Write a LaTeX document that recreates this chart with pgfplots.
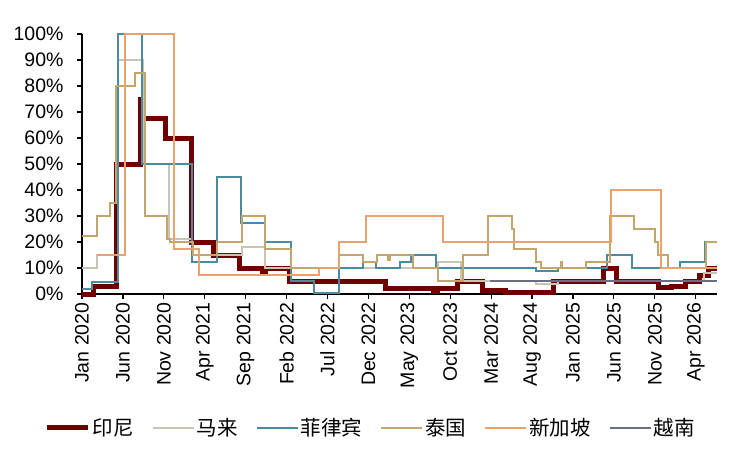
\documentclass[border=0pt]{standalone}
\usepackage{pgfplots}
\pgfplotsset{compat=1.18}
\usepackage{fontspec}
\setmainfont{Liberation Sans}
\newfontfamily\cjk{Noto Sans CJK SC}
\definecolor{cID}{HTML}{700000}
\definecolor{cMY}{HTML}{C9C5B5}
\definecolor{cPH}{HTML}{4A8C9E}
\definecolor{cTH}{HTML}{C4A56A}
\definecolor{cSG}{HTML}{E9A26E}
\definecolor{cVN}{HTML}{6A6E85}
\begin{document}
\begin{tikzpicture}
\begin{axis}[
  scale only axis, width=635bp, height=260bp,
  xmin=0, xmax=77.6, ymin=0, ymax=100,
  clip=false,
  axis x line*=bottom, axis y line*=left,
  axis line style={black, line width=1.2bp, -},
  tick style={black, line width=1.2bp},
  tick align=outside, major tick length=5bp,
  font=\fontsize{19.5bp}{22bp}\selectfont,
  xtick={0,5,...,75},
  xticklabels={Jan 2020,Jun 2020,Nov 2020,Apr 2021,Sep 2021,Feb 2022,Jul 2022,Dec 2022,May 2023,Oct 2023,Mar 2024,Aug 2024,Jan 2025,Jun 2025,Nov 2025,Apr 2026},
  xticklabel style={rotate=90, anchor=east},
  ytick={0,10,...,100},
  yticklabels={0\%,10\%,20\%,30\%,40\%,50\%,60\%,70\%,80\%,90\%,100\%},
  yticklabel style={xshift=-10bp},
  legend columns=6,
  legend style={at={(0.455,-0.515)}, anchor=center, draw=none, fill=none,
    font=\cjk\fontsize{20.5bp}{23bp}\selectfont,
    /tikz/every even column/.append style={column sep=16bp},
    nodes={inner sep=2bp}},
  legend image code/.code={\draw[#1] (0bp,0bp) -- (41bp,0bp);},
  const plot,
]
\addplot[cID, line width=5bp] coordinates {
(0,0) (1.4,3) (4.25,50) (7.1,75) (7.25,67.5) (10.2,60) (13.4,20) (16.1,15) (19.2,10) (22.1,8) (22.4,10) (25.3,5) (37.1,2) (43,1) (43.5,2) (45.9,5) (49,1.5) (51.8,0.5) (57.6,5) (63.7,10) (65.3,5) (70.4,2.5) (72,3) (73.7,5) (75.5,7) (76.5,10) (77.6,10)};
\addlegendentry{印尼}
\addplot[cMY, line width=2bp] coordinates {
(0,10) (1.8,15) (4.4,90) (7.5,50) (10.6,21) (13.4,15) (19.5,18) (22.4,10) (43.5,12.5) (46.3,5) (55.5,4) (58.2,5) (76,8) (77.6,8)};
\addlegendentry{马来}
\addplot[cPH, line width=2bp] coordinates {
(0,2) (1.2,4.5) (4.4,100) (7.3,50) (13.4,12.5) (16.5,45) (19.4,27.5) (22.4,20) (25.5,5) (28.3,0.5) (31.4,10) (34.3,12.5) (35.9,10) (38.8,12.5) (40.2,15) (43.3,10) (55.5,9) (58.2,10) (64.1,15) (67.2,10) (73.1,12.5) (76.1,20) (77.6,20)};
\addlegendentry{菲律宾}
\addplot[cTH, line width=2bp] coordinates {
(0,22.5) (1.8,30) (3.4,35) (4.1,80) (6.5,85) (7.7,30) (10.4,21) (10.8,20) (13.6,15) (16.5,20) (19.5,30) (22.4,17.5) (25.5,10) (31.4,15) (34.4,12.5) (36.1,15) (37.4,13) (37.6,15) (40.5,10) (43.5,5) (46.5,15) (49.6,30) (52.5,25) (52.8,17.5) (55.5,12.5) (56.1,10) (58.5,12.5) (58.7,10) (61.6,12.5) (64.5,30) (67.4,25) (70,20) (70.4,15) (71.6,10) (76.3,20) (77.6,20)};
\addlegendentry{泰国}
\addplot[cSG, line width=2bp] coordinates {
(1.8,15) (5.3,100) (11.2,17.5) (14.3,7.5) (29,10) (31.4,20) (34.7,30) (44.1,20) (64.7,40) (70.8,10) (77.6,10)};
\addlegendentry{新加坡}
\addplot[cVN, line width=2bp] coordinates {
(49.8,5) (77.6,5)};
\addlegendentry{越南}
\coordinate (O) at (rel axis cs:0,0);
\coordinate (T) at (rel axis cs:1,1);
\end{axis}
\pgfresetboundingbox
\path[use as bounding box] ([shift={(-82bp,-156bp)}]O) rectangle ([shift={(18bp,34bp)}]T);
\end{tikzpicture}
\end{document}
